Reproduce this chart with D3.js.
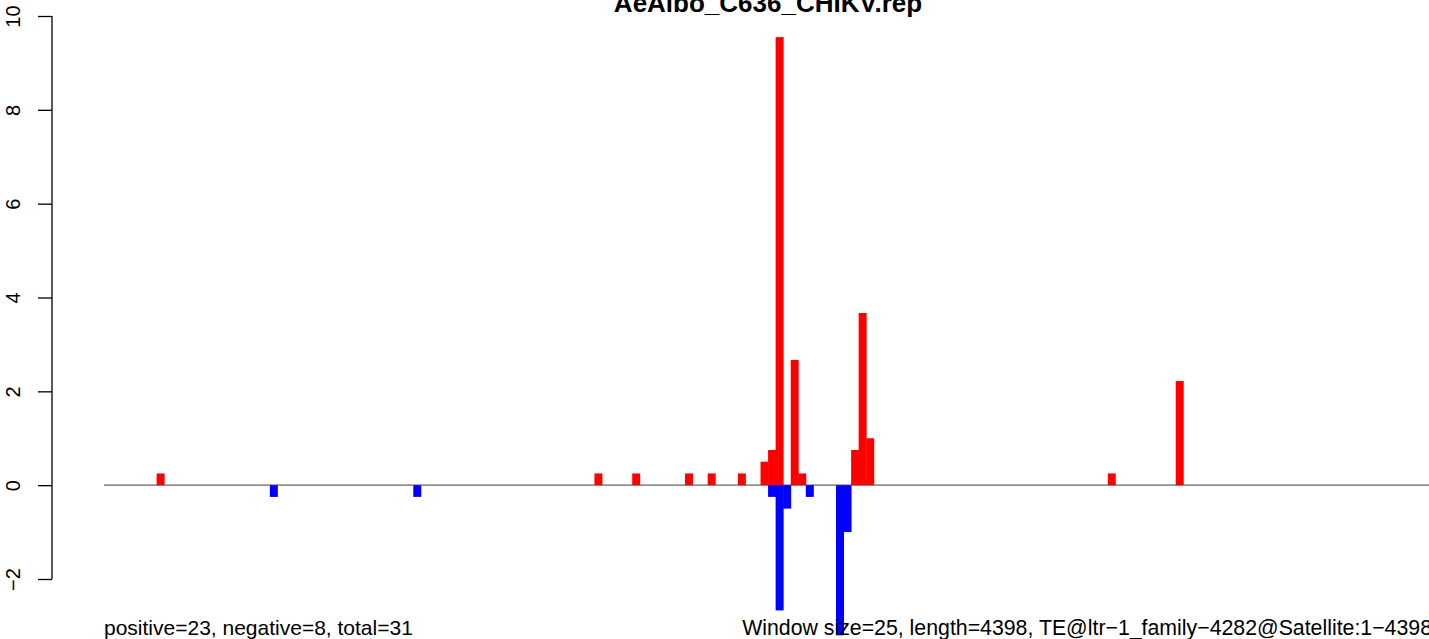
<!DOCTYPE html>
<html>
<head>
<meta charset="utf-8">
<script src="https://cdn.jsdelivr.net/npm/d3@7"></script>
<style>
  html, body { margin: 0; padding: 0; background: #fff; }
  svg { display: block; font-family: "Liberation Sans", Arial, Helvetica, sans-serif; }
</style>
</head>
<body>
<script>
// ---- data (window start positions in bp, window size 25) ----
const seqLength = 4398;
const windowSize = 25;
const posStarts = [175, 1625, 1750, 1925, 2000, 2100, 2175, 2200, 2225, 2275, 2300, 2475, 2500, 2525, 3325, 3550];
const posValues = [0.25, 0.25, 0.25, 0.25, 0.25, 0.25, 0.5, 0.75, 9.55, 2.67, 0.25, 0.75, 3.67, 1.0, 0.25, 2.22];
const negStarts = [550, 1025, 2200, 2225, 2250, 2325, 2425, 2450];
const negValues = [-0.25, -0.25, -0.25, -2.67, -0.5, -0.25, -3.2, -1.0];
const yTicks = [-2, 0, 2, 4, 6, 8, 10];
const titleText = "AeAlbo_C636_CHIKV.rep";
const leftNote = "positive=23, negative=8, total=31";
const rightNote = "Window size=25, length=4398, TE@ltr\u22121_family\u22124282@Satellite:1\u22124398";

const W = 1429, H = 639;
const svg = d3.select("body").append("svg").attr("width", W).attr("height", H);

const x = d3.scaleLinear().domain([0, seqLength]).range([104, 1432]);
const y = d3.scaleLinear().domain([-2, 10]).range([579, 16]);
const barW = 8;

// zero line
svg.append("line")
  .attr("x1", 104).attr("x2", W)
  .attr("y1", y(0)).attr("y2", y(0))
  .attr("stroke", "#8f8f8f").attr("stroke-width", 1.6);

const pos = posStarts.map((s, i) => ({ s, v: posValues[i] }));
const neg = negStarts.map((s, i) => ({ s, v: negValues[i] }));

svg.append("g").selectAll("rect").data(pos).join("rect")
  .attr("x", d => x(d.s + windowSize / 2) - barW / 2)
  .attr("width", barW)
  .attr("y", d => y(d.v))
  .attr("height", d => y(0) - y(d.v))
  .attr("fill", "#ff0000");

svg.append("g").selectAll("rect").data(neg).join("rect")
  .attr("x", d => x(d.s + windowSize / 2) - barW / 2)
  .attr("width", barW)
  .attr("y", y(0))
  .attr("height", d => y(d.v) - y(0))
  .attr("fill", "#0000ff");

// y axis (R style)
const axisX = 52;
const yAxis = d3.axisLeft(y).tickValues(yTicks).tickSize(14).tickSizeOuter(0)
  .tickFormat(d => d < 0 ? "\u2212" + Math.abs(d) : String(d));
const ga = svg.append("g").attr("transform", `translate(${axisX},0)`).call(yAxis);
ga.select(".domain").attr("stroke", "#000").attr("stroke-width", 1.3)
  .attr("d", `M0,${y(-2)}V${y(10)}`);
ga.selectAll(".tick line").attr("stroke", "#000").attr("stroke-width", 1.3);
ga.selectAll(".tick text")
  .attr("fill", "#000")
  .style("font-size", "20px")
  .style("font-family", '"Liberation Sans", Arial, sans-serif')
  .attr("text-anchor", "middle")
  .attr("x", 0).attr("dy", 0)
  .attr("transform", d => `translate(${20 - axisX},0) rotate(-90)`)
  .attr("y", 0);

// title
svg.append("text")
  .attr("x", 768).attr("y", 12)
  .attr("text-anchor", "middle")
  .style("font-size", "26px").style("font-weight", "bold")
  .text(titleText);

// bottom notes
svg.append("text")
  .attr("x", 104).attr("y", 635)
  .style("font-size", "21px")
  .text(leftNote);
svg.append("text")
  .attr("x", 1432).attr("y", 635)
  .attr("text-anchor", "end")
  .style("font-size", "21.3px")
  .text(rightNote);
</script>
</body>
</html>
